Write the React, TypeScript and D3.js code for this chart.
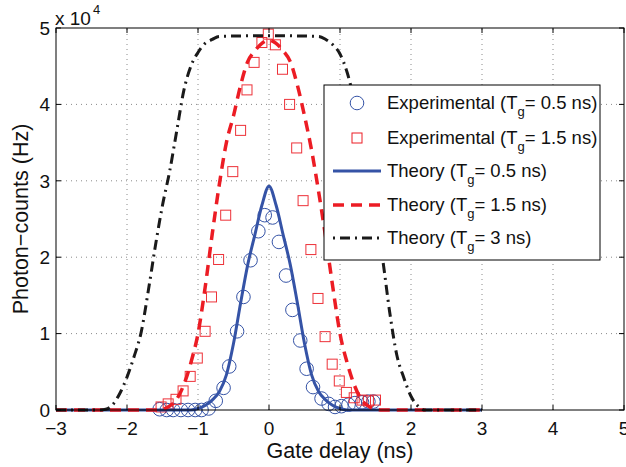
import React from "react";
import * as d3 from "d3";

const W = 626;
const H = 467;
const margin = { left: 56, right: 2, top: 28, bottom: 57 };

// gate delay (ns) on x, photon counts in units of 1e4 Hz on y
const xTicks = [-3, -2, -1, 0, 1, 2, 3, 4, 5];
const yTicks = [0, 1, 2, 3, 4, 5];

// Experimental, Tg = 0.5 ns (circles)
const expShortX = [-1.54, -1.44, -1.35, -1.24, -1.14, -1.04, -0.95, -0.85, -0.75, -0.64, -0.56, -0.45, -0.36, -0.26, -0.15, -0.06,
  0.05, 0.14, 0.24, 0.33, 0.44, 0.53, 0.62, 0.74, 0.84, 0.93, 1.02, 1.12, 1.21, 1.31, 1.4, 1.47];
const expShortY = [0.01, 0.0, 0.0, 0.0, 0.0, 0.0, 0.0, 0.02, 0.12, 0.29, 0.57, 1.03, 1.48, 1.96, 2.34, 2.55,
  2.52, 2.2, 1.76, 1.31, 0.91, 0.54, 0.3, 0.15, 0.08, 0.04, 0.05, 0.07, 0.09, 0.1, 0.11, 0.11];

// Experimental, Tg = 1.5 ns (squares)
const expLongX = [-1.52, -1.42, -1.31, -1.21, -1.11, -1.01, -0.9, -0.81, -0.71, -0.61, -0.51, -0.4, -0.31, -0.21, -0.1, -0.01,
  0.09, 0.19, 0.29, 0.39, 0.48, 0.59, 0.69, 0.79, 0.89, 0.99, 1.09, 1.2, 1.31, 1.4, 1.5];
const expLongY = [0.04, 0.08, 0.14, 0.25, 0.44, 0.68, 1.03, 1.48, 1.97, 2.55, 3.12, 3.66, 4.19, 4.55, 4.81, 4.92,
  4.78, 4.46, 4.0, 3.43, 2.74, 2.1, 1.46, 0.96, 0.6, 0.38, 0.23, 0.16, 0.13, 0.12, 0.13];

// Theory, Tg = 0.5 ns
const thShortX = [-3, -1.1, -1.0, -0.9, -0.8, -0.7, -0.6, -0.5, -0.4, -0.3, -0.2, -0.1, 0,
  0.1, 0.2, 0.3, 0.4, 0.5, 0.6, 0.7, 0.8, 0.9, 1.0, 1.1, 3];
const thShortY = [0, 0, 0.02, 0.06, 0.13, 0.24, 0.46, 0.87, 1.4, 1.9, 2.29, 2.68, 2.93,
  2.68, 2.29, 1.9, 1.4, 0.87, 0.46, 0.24, 0.13, 0.06, 0.02, 0, 0];

// Theory, Tg = 1.5 ns
const thMidX = [-3, -1.6, -1.5, -1.4, -1.3, -1.2, -1.1, -1.0, -0.9, -0.8, -0.7, -0.6, -0.5, -0.4, -0.3, -0.2, -0.1, 0,
  0.1, 0.2, 0.3, 0.4, 0.5, 0.6, 0.7, 0.8, 0.9, 1.0, 1.1, 1.2, 1.3, 1.4, 1.5, 1.6, 3];
const thMidY = [0, 0, 0.01, 0.05, 0.14, 0.33, 0.62, 1.0, 1.6, 2.3, 2.95, 3.5, 3.85, 4.25, 4.56, 4.7, 4.8, 4.84,
  4.8, 4.7, 4.56, 4.25, 3.85, 3.4, 2.85, 2.25, 1.6, 1.0, 0.62, 0.33, 0.14, 0.05, 0.01, 0, 0];

// Theory, Tg = 3 ns
const thLongX = [-3, -2.4, -2.3, -2.2, -2.1, -2.0, -1.9, -1.8, -1.7, -1.6, -1.5, -1.4, -1.3, -1.2, -1.1, -1.0, -0.9, -0.8, -0.7, 0,
  0.7, 0.8, 0.9, 1.0, 1.1, 1.2, 1.3, 1.4, 1.5, 1.6, 1.7, 1.8, 1.9, 2.0, 2.1, 2.2, 3];
const thLongY = [0, 0, 0.01, 0.07, 0.22, 0.43, 0.7, 1.02, 1.56, 2.15, 2.68, 3.12, 3.65, 4.18, 4.5, 4.68, 4.8, 4.85, 4.89, 4.9,
  4.89, 4.85, 4.78, 4.66, 4.42, 4.05, 3.55, 3.0, 2.55, 1.98, 1.28, 0.72, 0.42, 0.18, 0.05, 0, 0];

const BLUE = "#3553a6";
const RED = "#ec1c24";
const BLACK = "#1a1a1a";
const FONT = "'Liberation Sans', Arial, Helvetica, sans-serif";

const legendRows = [
  { kind: "circle", label: "Experimental (T", tail: "= 0.5 ns)" },
  { kind: "square", label: "Experimental (T", tail: "= 1.5 ns)" },
  { kind: "solid", label: "Theory (T", tail: "= 0.5 ns)" },
  { kind: "dash", label: "Theory (T", tail: "= 1.5 ns)" },
  { kind: "dashdot", label: "Theory (T", tail: "= 3 ns)" },
];

export default function App() {
  const x = d3.scaleLinear().domain([-3, 5]).range([margin.left, W - margin.right]);
  const y = d3.scaleLinear().domain([0, 5]).range([H - margin.bottom, margin.top]);
  const x0 = x.range()[0], x1 = x.range()[1];
  const y0 = y.range()[0], y1 = y.range()[1];

  const line = d3
    .line<[number, number]>()
    .x((d) => x(d[0]))
    .y((d) => y(d[1]))
    .curve(d3.curveMonotoneX);

  const zip = (a: number[], b: number[]) => a.map((v, i) => [v, b[i]] as [number, number]);

  const lx = 324, ly = 85, lw = 276, lh = 175;
  const rowY = [103, 138, 171, 205, 238];

  return (
    <svg width={W} height={H} style={{ position: "absolute", left: 0, top: 0, background: "#fff" }} fontFamily={FONT}>
      <rect x={0} y={0} width={W} height={H} fill="#fff" />
      {/* grid */}
      <g stroke="#8a8a8a" strokeWidth={1} strokeDasharray="1,4">
        {xTicks.slice(1, -1).map((t) => (
          <line key={"gx" + t} x1={x(t)} x2={x(t)} y1={y0} y2={y1} />
        ))}
        {yTicks.slice(1, -1).map((t) => (
          <line key={"gy" + t} x1={x0} x2={x1} y1={y(t)} y2={y(t)} />
        ))}
      </g>

      {/* data */}
      <g fill="none" stroke={BLUE} strokeWidth={1}>
        {expShortX.map((v, i) => (
          <circle key={"c" + i} cx={x(v)} cy={y(expShortY[i])} r={6.8} />
        ))}
      </g>
      <g fill="none" stroke={RED} strokeWidth={1} opacity={0.9}>
        {expLongX.map((v, i) => (
          <rect key={"s" + i} x={x(v) - 5} y={y(expLongY[i]) - 5} width={10} height={10} />
        ))}
      </g>
      <path d={line(zip(thShortX, thShortY)) || ""} fill="none" stroke={BLUE} strokeWidth={3} />
      <path d={line(zip(thMidX, thMidY)) || ""} fill="none" stroke={RED} strokeWidth={3.5} strokeDasharray="11,7" />
      <path d={line(zip(thLongX, thLongY)) || ""} fill="none" stroke={BLACK} strokeWidth={3} strokeDasharray="10,5,2,5" />

      {/* axes box and ticks */}
      <rect x={x0} y={y1} width={x1 - x0} height={y0 - y1} fill="none" stroke="#000" strokeWidth={1} />
      <g stroke="#000" strokeWidth={1}>
        {xTicks.map((t) => (
          <g key={"tx" + t}>
            <line x1={x(t)} x2={x(t)} y1={y0} y2={y0 - 5} />
            <line x1={x(t)} x2={x(t)} y1={y1} y2={y1 + 5} />
          </g>
        ))}
        {yTicks.map((t) => (
          <g key={"ty" + t}>
            <line x1={x0} x2={x0 + 5} y1={y(t)} y2={y(t)} />
            <line x1={x1} x2={x1 - 5} y1={y(t)} y2={y(t)} />
          </g>
        ))}
      </g>
      <g fontSize={19} fill="#111">
        {xTicks.map((t) => (
          <text key={"lx" + t} x={x(t)} y={435} textAnchor="middle">
            {t < 0 ? "\u2212" + Math.abs(t) : String(t)}
          </text>
        ))}
        {yTicks.map((t) => (
          <text key={"ly" + t} x={x0 - 6} y={y(t)} dy="0.36em" textAnchor="end">
            {t}
          </text>
        ))}
        <text x={55} y={25}>x 10</text>
        <text x={93} y={14} fontSize={13}>4</text>
      </g>
      <text x={(x0 + x1) / 2} y={458} textAnchor="middle" fontSize={21.5} fill="#111">
        Gate delay (ns)
      </text>
      <text transform={`translate(28,${(y0 + y1) / 2}) rotate(-90)`} textAnchor="middle" fontSize={21.5} fill="#111">
        Photon{"\u2212"}counts (Hz)
      </text>

      {/* legend */}
      <rect x={lx} y={ly} width={lw} height={lh} fill="#fff" stroke="#000" strokeWidth={1} />
      {legendRows.map((r, i) => {
        const cy = rowY[i];
        return (
          <g key={"lg" + i}>
            {r.kind === "circle" && <circle cx={357} cy={cy} r={6.8} fill="none" stroke={BLUE} />}
            {r.kind === "square" && <rect x={352} y={cy - 5} width={10} height={10} fill="none" stroke={RED} />}
            {r.kind === "solid" && <line x1={333} x2={381} y1={cy} y2={cy} stroke={BLUE} strokeWidth={3} />}
            {r.kind === "dash" && (
              <line x1={333} x2={381} y1={cy} y2={cy} stroke={RED} strokeWidth={3.5} strokeDasharray="11,7" />
            )}
            {r.kind === "dashdot" && (
              <line x1={333} x2={381} y1={cy} y2={cy} stroke={BLACK} strokeWidth={3} strokeDasharray="2,5,10,5" />
            )}
            <text x={387} y={cy} dy="0.35em" fontSize={18.5} fill="#111">
              {r.label}
              <tspan fontSize={13} dy={7}>g</tspan>
              <tspan dy={-7}>{r.tail}</tspan>
            </text>
          </g>
        );
      })}
    </svg>
  );
}
